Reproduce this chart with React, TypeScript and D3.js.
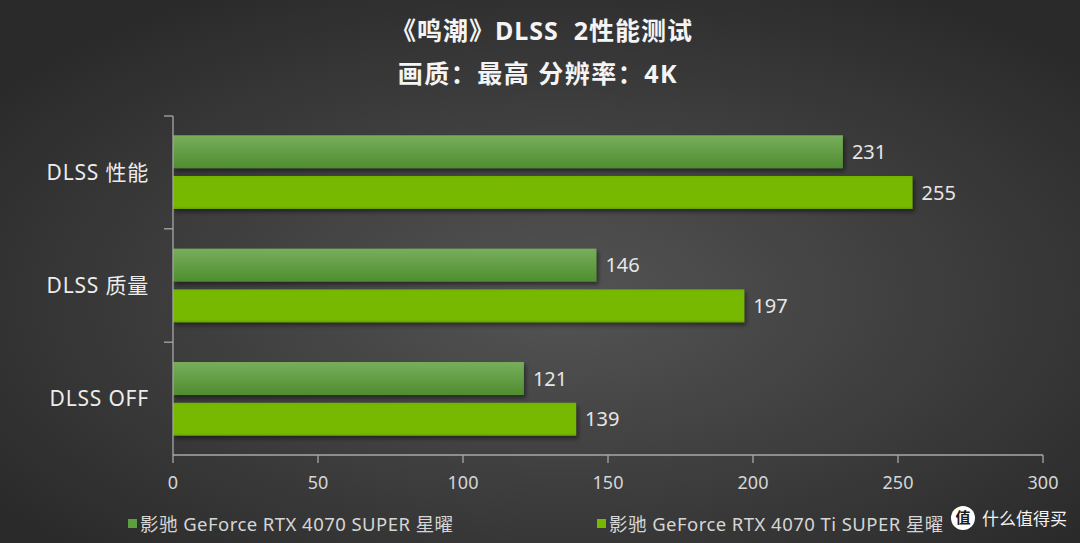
import React from "react";
import * as d3 from "d3";

const categories = ["DLSS 性能", "DLSS 质量", "DLSS OFF"];
const seriesNames = [
  "影驰 GeForce RTX 4070 SUPER 星曜",
  "影驰 GeForce RTX 4070 Ti SUPER 星曜",
];
const superValues = [231, 146, 121];
const tiSuperValues = [255, 197, 139];
const xTicks = [0, 50, 100, 150, 200, 250, 300];

const W = 1080;
const H = 543;
const margin = { top: 116, right: 37, bottom: 88, left: 173 };
const FONT = "'Noto Sans', 'Noto Sans CJK SC', sans-serif";

const App: React.FC = () => {
  const x = d3
    .scaleLinear()
    .domain([0, 300])
    .range([margin.left, W - margin.right]);

  const y0 = d3
    .scaleBand<string>()
    .domain(categories)
    .range([margin.top, H - margin.bottom])
    .paddingInner(0.35)
    .paddingOuter(0.17);

  const y1 = d3
    .scaleBand<string>()
    .domain(["s0", "s1"])
    .range([0, y0.bandwidth()])
    .paddingInner(0.19);

  const series = [superValues, tiSuperValues];
  const fills = ["url(#gradSuper)", "url(#gradTi)"];
  const legendColors = ["#5f9e3f", "#76b900"];

  // category boundary ticks on the y axis
  const step = y0.step();
  const boundaries = categories.slice(1).map((c) => y0(c)! - (step - y0.bandwidth()) / 2);

  const axisBottom = H - margin.bottom;

  return (
    <svg width={W} height={H} style={{ display: "block", position: "absolute", left: 0, top: 0 }}>
      <defs>
        <radialGradient id="bg" cx="52%" cy="55%" r="65%">
          <stop offset="0%" stopColor="#545454" />
          <stop offset="100%" stopColor="#2a2a2a" />
        </radialGradient>
        <linearGradient id="gradSuper" x1="0" y1="0" x2="0" y2="1">
          <stop offset="0%" stopColor="#78ae5c" />
          <stop offset="100%" stopColor="#4f8d2f" />
        </linearGradient>
        <linearGradient id="gradTi" x1="0" y1="0" x2="0" y2="1">
          <stop offset="0%" stopColor="#72b200" />
          <stop offset="8%" stopColor="#76b900" />
          <stop offset="92%" stopColor="#76b900" />
          <stop offset="100%" stopColor="#68a300" />
        </linearGradient>
        <filter id="shadow" x="-5%" y="-20%" width="115%" height="160%">
          <feDropShadow dx="2" dy="3" stdDeviation="2" floodColor="#000" floodOpacity="0.45" />
        </filter>
      </defs>

      <rect x={0} y={0} width={W} height={H} fill="url(#bg)" />

      {/* title */}
      <text x={542} y={40} textAnchor="middle" fill="#f4f4f4" fontFamily={FONT} fontWeight={700} fontSize={25} letterSpacing={1} style={{ whiteSpace: "pre" }}>
        {"《鸣潮》DLSS  2性能测试"}
      </text>
      <text x={538} y={83} textAnchor="middle" fill="#f4f4f4" fontFamily={FONT} fontWeight={700} fontSize={25} letterSpacing={1.5}>
        画质：最高 分辨率：4K
      </text>

      {/* bars */}
      {categories.map((c, ci) => (
        <g key={c} transform={`translate(0,${y0(c)})`}>
          {series.map((vals, si) => {
            const by = y1(`s${si}`)!;
            const bh = y1.bandwidth();
            return (
              <g key={si}>
                <rect
                  x={x(0)}
                  y={by}
                  width={x(vals[ci]) - x(0)}
                  height={bh}
                  fill={fills[si]}
                  filter="url(#shadow)"
                />
                <text
                  x={x(vals[ci]) + 9}
                  y={by + bh / 2}
                  dy="0.36em"
                  fill="#e6e6e6"
                  fontFamily={FONT}
                  fontSize={20}
                >
                  {vals[ci]}
                </text>
              </g>
            );
          })}
          <text
            x={149}
            y={y0.bandwidth() / 2}
            dy="0.36em"
            textAnchor="end"
            fill="#ececec"
            fontFamily={FONT}
            fontSize={21}
            letterSpacing={0.8}
          >
            {c}
          </text>
        </g>
      ))}

      {/* y axis */}
      <g stroke="#a8a8a8" strokeWidth={1.3} fill="none">
        <line x1={margin.left} x2={margin.left} y1={margin.top} y2={axisBottom} />
        <line x1={margin.left - 9} x2={margin.left} y1={margin.top} y2={margin.top} />
        {boundaries.map((b, i) => (
          <line key={i} x1={margin.left - 9} x2={margin.left} y1={b} y2={b} />
        ))}
      </g>

      {/* x axis */}
      <g>
        <line x1={x(0)} x2={x(300)} y1={axisBottom} y2={axisBottom} stroke="#a8a8a8" strokeWidth={1.3} />
        {xTicks.map((t) => (
          <g key={t}>
            <line x1={x(t)} x2={x(t)} y1={axisBottom} y2={axisBottom + 8} stroke="#a8a8a8" strokeWidth={1.3} />
            <text
              x={x(t)}
              y={489}
              textAnchor="middle"
              fill="#d6d6d6"
              fontFamily={FONT}
              fontSize={18}
            >
              {t}
            </text>
          </g>
        ))}
      </g>

      {/* legend */}
      {seriesNames.map((name, i) => {
        const lx = i === 0 ? 128 : 597;
        return (
          <g key={name}>
            <rect x={lx} y={519} width={9} height={9} fill={legendColors[i]} />
            <text x={lx + 12} y={531} fill="#d6d6d6" fontFamily={FONT} fontSize={18.5} letterSpacing={0.45}>
              {name}
            </text>
          </g>
        );
      })}

      {/* watermark */}
      <g>
        <circle cx={963} cy={518} r={12} fill="#ffffff" />
        <text x={963} y={518} dy="0.36em" textAnchor="middle" fill="#1a1a1a" fontFamily={FONT} fontWeight={700} fontSize={15}>
          值
        </text>
        <text x={982} y={525} fill="#f2f2f2" fontFamily={FONT} fontSize={17}>
          什么值得买
        </text>
      </g>
    </svg>
  );
};

export default App;
